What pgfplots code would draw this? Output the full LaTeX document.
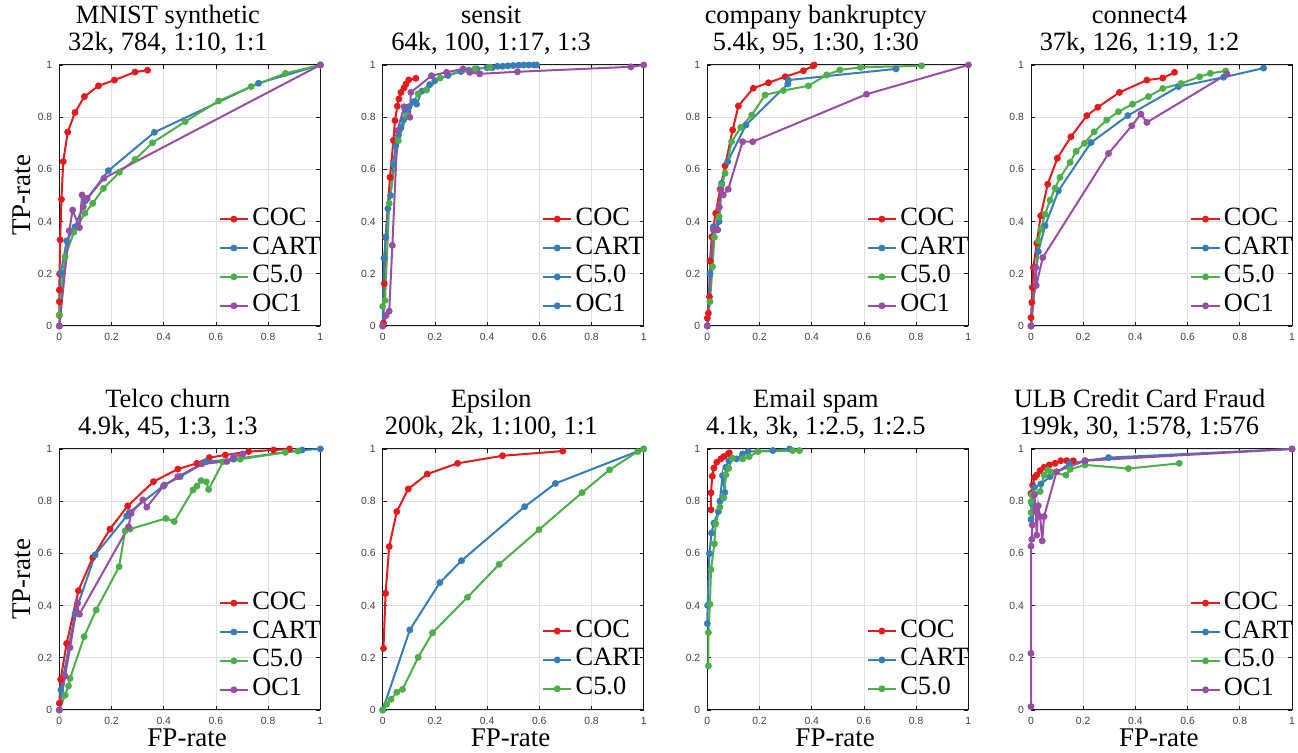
\documentclass[border=0pt]{standalone}
\usepackage{fontspec}
\setmainfont{Liberation Serif}
\newfontfamily\ticksfont{Liberation Sans}
\usepackage{pgfplots}
\pgfplotsset{compat=1.18}
\definecolor{cocred}{HTML}{E41A1C}
\definecolor{cartblue}{HTML}{377EB8}
\definecolor{cgreen}{HTML}{4DAF4A}
\definecolor{ocpurple}{HTML}{984EA3}
\pgfplotsset{
  cocst/.style={color=cocred, line width=1pt, mark=*, mark size=1.2pt, mark options={solid}},
  cartst/.style={color=cartblue, line width=1pt, mark=*, mark size=1.2pt, mark options={solid}},
  c5st/.style={color=cgreen, line width=1pt, mark=*, mark size=1.2pt, mark options={solid}},
  ocst/.style={color=ocpurple, line width=1pt, mark=*, mark size=1.2pt, mark options={solid}},
  rocax/.style={
    width=130.5pt, height=130.5pt, scale only axis, anchor=south west,
    xmin=0, xmax=1, ymin=0, ymax=1, clip=false,
    xtick={0,0.2,0.4,0.6,0.8,1}, ytick={0,0.2,0.4,0.6,0.8,1},
    xticklabels={0,0.2,0.4,0.6,0.8,1}, yticklabels={0,0.2,0.4,0.6,0.8,1},
    tick align=inside, xtick pos=both, ytick pos=both,
    major tick length=2pt,
    grid=major, major grid style={black!12, line width=0.4pt},
    axis line style={line width=0.5pt, black!90},
    tick style={black!90, line width=0.4pt},
    ticklabel style={font=\ticksfont\fontsize{5.2}{6}\selectfont, text=black!75},
    /pgf/number format/assume math mode=true,
    title style={font=\fontsize{13.2}{13.4}\selectfont, align=center, at={(axis description cs:0.5,1)}, anchor=south, inner sep=0pt, yshift=-0.8pt, xshift=-11pt},
    ylabel style={font=\fontsize{13.5}{14}\selectfont, at={(axis description cs:-0.1065,0.5)}, anchor=south, inner sep=0pt},
    xlabel style={font=\fontsize{13.5}{14}\selectfont, at={(axis description cs:0.49,-0.069)}, anchor=north, inner sep=0pt},
    legend image code/.code={\draw[mark repeat=2,mark phase=2,##1] plot coordinates {(0pt,0pt) (7.1pt,0pt) (14.2pt,0pt)};},
    legend cell align=left,
    legend style={draw=none, fill=none, inner sep=0pt, anchor=north west, at={(axis description cs:0.609,0.457)},
      font=\fontsize{13.2}{13.2}\selectfont, row sep=2.45pt,
      nodes={inner sep=0pt, text height=9pt, text depth=3pt},
      /tikz/every odd column/.append style={column sep=1.6pt}},
  },
  leg3/.style={legend style={at={(axis description cs:0.609,0.350)}}},
}
\begin{document}
\begin{tikzpicture}
\useasboundingbox (0,0) rectangle (649pt,376.5pt);
% ---------- MNIST synthetic
\begin{axis}[rocax, at={(29.67pt,213.5pt)}, title={MNIST synthetic\\32k, 784, 1:10, 1:1}, ylabel={TP-rate}]
\addplot[cocst, forget plot] coordinates {(0,0.04) (0,0.093) (0,0.138) (0.001,0.2) (0.003,0.33) (0.008,0.485) (0.015,0.63) (0.032,0.743) (0.06,0.818) (0.096,0.879) (0.15,0.92) (0.211,0.942) (0.29,0.973) (0.338,0.98)};
\addplot[cartst, forget plot] coordinates {(0,0) (0.006,0.204) (0.028,0.326) (0.06,0.38) (0.1,0.48) (0.188,0.595) (0.364,0.742) (0.763,0.93) (1,1)};
\addplot[c5st, forget plot] coordinates {(0,0.042) (0.022,0.265) (0.056,0.36) (0.098,0.432) (0.128,0.47) (0.169,0.527) (0.23,0.589) (0.29,0.638) (0.357,0.702) (0.482,0.783) (0.61,0.862) (0.735,0.917) (0.866,0.968) (1,1)};
\addplot[ocst, forget plot] coordinates {(0,0) (0.038,0.365) (0.051,0.444) (0.077,0.377) (0.087,0.502) (0.092,0.457) (0.107,0.489) (0.171,0.566) (1,1)};
\addlegendimage{cocst}\addlegendentry{COC}
\addlegendimage{cartst}\addlegendentry{CART}
\addlegendimage{c5st}\addlegendentry{C5.0}
\addlegendimage{ocst}\addlegendentry{OC1}
\end{axis}
% ---------- sensit
\begin{axis}[rocax, at={(191.35pt,213.5pt)}, title={sensit\\64k, 100, 1:17, 1:3}]
\addplot[cocst, forget plot] coordinates {(0.003,0.011) (0.006,0.162) (0.011,0.34) (0.028,0.57) (0.041,0.711) (0.047,0.787) (0.056,0.842) (0.062,0.87) (0.07,0.895) (0.082,0.912) (0.089,0.927) (0.1,0.943) (0.127,0.949)};
\addplot[cartst, forget plot] coordinates {(0,0) (0.005,0.26) (0.012,0.34) (0.02,0.45) (0.03,0.5) (0.04,0.62) (0.05,0.69) (0.06,0.73) (0.07,0.76) (0.08,0.79) (0.09,0.82) (0.1,0.84) (0.12,0.86) (0.13,0.85) (0.15,0.9) (0.18,0.925) (0.2,0.94) (0.25,0.96) (0.3,0.975) (0.33,0.98) (0.36,0.985) (0.4,0.99) (0.42,0.99) (0.44,0.995) (0.46,0.995) (0.48,0.997) (0.5,0.998) (0.52,0.999) (0.54,1) (0.56,1) (0.58,1) (0.59,1)};
\addplot[c5st, forget plot] coordinates {(0,0.075) (0.009,0.098) (0.025,0.47) (0.06,0.71) (0.092,0.806) (0.136,0.89) (0.168,0.904) (0.22,0.95) (0.31,0.982) (0.353,0.985) (0.41,0.991)};
\addplot[ocst, forget plot] coordinates {(0,0) (0.013,0.04) (0.025,0.057) (0.037,0.309) (0.057,0.749) (0.082,0.84) (0.104,0.8) (0.108,0.895) (0.187,0.959) (0.245,0.972) (0.308,0.985) (0.334,0.972) (0.372,0.966) (0.516,0.974) (0.951,0.993) (1,1)};
\addlegendimage{cocst}\addlegendentry{COC}
\addlegendimage{cartst}\addlegendentry{CART}
\addlegendimage{cartst}\addlegendentry{C5.0}
\addlegendimage{cartst}\addlegendentry{OC1}
\end{axis}
% ---------- company bankruptcy
\begin{axis}[rocax, at={(353.67pt,213.5pt)}, title={company bankruptcy\\5.4k, 95, 1:30, 1:30}]
\addplot[cocst, forget plot] coordinates {(0,0.03) (0.004,0.049) (0.008,0.112) (0.01,0.249) (0.017,0.342) (0.032,0.432) (0.049,0.524) (0.068,0.614) (0.097,0.751) (0.119,0.843) (0.176,0.911) (0.234,0.932) (0.298,0.955) (0.368,0.978) (0.406,0.997) (0.409,1)};
\addplot[cartst, forget plot] coordinates {(0,0) (0.01,0.2) (0.023,0.38) (0.045,0.4) (0.055,0.547) (0.078,0.63) (0.148,0.77) (0.308,0.927) (0.31,0.942) (0.723,0.985)};
\addplot[c5st, forget plot] coordinates {(0,0) (0.01,0.093) (0.02,0.227) (0.027,0.34) (0.045,0.419) (0.055,0.54) (0.068,0.585) (0.093,0.706) (0.128,0.761) (0.17,0.808) (0.221,0.885) (0.291,0.902) (0.387,0.92) (0.457,0.962) (0.508,0.981) (0.587,0.991) (0.821,0.997)};
\addplot[ocst, forget plot] coordinates {(0,0) (0.023,0.368) (0.04,0.368) (0.046,0.455) (0.052,0.521) (0.061,0.502) (0.08,0.524) (0.135,0.706) (0.174,0.706) (0.61,0.888) (1,1)};
\addlegendimage{cocst}\addlegendentry{COC}
\addlegendimage{cartst}\addlegendentry{CART}
\addlegendimage{c5st}\addlegendentry{C5.0}
\addlegendimage{ocst}\addlegendentry{OC1}
\end{axis}
% ---------- connect4
\begin{axis}[rocax, at={(515.5pt,213.5pt)}, title={connect4\\37k, 126, 1:19, 1:2}]
\addplot[cocst, forget plot] coordinates {(0,0.032) (0.003,0.09) (0.005,0.147) (0.009,0.224) (0.022,0.317) (0.037,0.422) (0.064,0.543) (0.101,0.643) (0.153,0.725) (0.214,0.806) (0.256,0.838) (0.339,0.895) (0.444,0.942) (0.505,0.95) (0.55,0.972)};
\addplot[cartst, forget plot] coordinates {(0,0) (0.028,0.285) (0.054,0.384) (0.105,0.518) (0.23,0.703) (0.371,0.806) (0.565,0.917) (0.738,0.953) (0.891,0.988)};
\addplot[c5st, forget plot] coordinates {(0,0) (0.028,0.326) (0.038,0.371) (0.054,0.428) (0.073,0.482) (0.092,0.528) (0.111,0.569) (0.15,0.627) (0.173,0.669) (0.205,0.7) (0.242,0.744) (0.29,0.789) (0.335,0.821) (0.389,0.85) (0.45,0.879) (0.505,0.91) (0.575,0.929) (0.646,0.955) (0.687,0.968) (0.746,0.977)};
\addplot[ocst, forget plot] coordinates {(0,0) (0.018,0.224) (0.02,0.155) (0.045,0.262) (0.297,0.661) (0.386,0.767) (0.421,0.812) (0.444,0.78) (0.751,0.965)};
\addlegendimage{cocst}\addlegendentry{COC}
\addlegendimage{cartst}\addlegendentry{CART}
\addlegendimage{c5st}\addlegendentry{C5.0}
\addlegendimage{ocst}\addlegendentry{OC1}
\end{axis}
% ---------- Telco churn
\begin{axis}[rocax, at={(29.67pt,21.5pt)}, title={Telco churn\\4.9k, 45, 1:3, 1:3}, ylabel={TP-rate}, xlabel={FP-rate}]
\addplot[cocst, forget plot] coordinates {(0,0.026) (0.005,0.117) (0.028,0.255) (0.073,0.457) (0.128,0.584) (0.194,0.693) (0.262,0.782) (0.361,0.875) (0.454,0.923) (0.527,0.945) (0.575,0.967) (0.636,0.977) (0.725,0.99) (0.821,0.996) (0.882,1)};
\addplot[cartst, forget plot] coordinates {(0,0) (0.006,0.077) (0.06,0.37) (0.137,0.594) (0.258,0.743) (0.268,0.757) (0.403,0.862) (0.463,0.894) (0.563,0.951) (0.668,0.961) (0.93,0.996) (1,1)};
\addplot[c5st, forget plot] coordinates {(0,0) (0.022,0.057) (0.035,0.092) (0.041,0.121) (0.095,0.281) (0.141,0.383) (0.229,0.549) (0.252,0.686) (0.271,0.693) (0.408,0.734) (0.44,0.722) (0.512,0.843) (0.527,0.858) (0.543,0.879) (0.563,0.874) (0.572,0.845) (0.627,0.951) (0.693,0.961) (0.866,0.987) (0.914,0.992)};
\addplot[ocst, forget plot] coordinates {(0,0) (0.022,0.13) (0.041,0.239) (0.07,0.409) (0.073,0.37) (0.077,0.367) (0.265,0.702) (0.275,0.753) (0.32,0.805) (0.335,0.777) (0.399,0.858) (0.454,0.894) (0.546,0.943) (0.642,0.952) (0.668,0.971) (0.703,0.981)};
\addlegendimage{cocst}\addlegendentry{COC}
\addlegendimage{cartst}\addlegendentry{CART}
\addlegendimage{c5st}\addlegendentry{C5.0}
\addlegendimage{ocst}\addlegendentry{OC1}
\end{axis}
% ---------- Epsilon
\begin{axis}[rocax, leg3, at={(191.35pt,21.5pt)}, title={Epsilon\\200k, 2k, 1:100, 1:1}, xlabel={FP-rate}]
\addplot[cocst, forget plot] coordinates {(0.003,0.236) (0.011,0.447) (0.025,0.626) (0.054,0.76) (0.098,0.847) (0.171,0.904) (0.287,0.945) (0.459,0.974) (0.69,0.992)};
\addplot[cartst, forget plot] coordinates {(0,0) (0.104,0.307) (0.219,0.488) (0.302,0.572) (0.544,0.779) (0.662,0.868) (1,1)};
\addplot[c5st, forget plot] coordinates {(0,0) (0.015,0.022) (0.032,0.041) (0.054,0.068) (0.076,0.079) (0.136,0.202) (0.191,0.296) (0.325,0.432) (0.446,0.558) (0.599,0.691) (0.764,0.833) (0.869,0.92) (0.977,0.99) (1,1)};
\addlegendimage{cocst}\addlegendentry{COC}
\addlegendimage{cartst}\addlegendentry{CART}
\addlegendimage{c5st}\addlegendentry{C5.0}
\end{axis}
% ---------- Email spam
\begin{axis}[rocax, leg3, at={(353.67pt,21.5pt)}, title={Email spam\\4.1k, 3k, 1:2.5, 1:2.5}, xlabel={FP-rate}]
\addplot[cocst, forget plot] coordinates {(0.014,0.767) (0.014,0.832) (0.019,0.896) (0.025,0.927) (0.036,0.949) (0.052,0.962) (0.063,0.971) (0.08,0.981) (0.084,0.985)};
\addplot[cartst, forget plot] coordinates {(0,0.331) (0.001,0.401) (0.008,0.599) (0.016,0.678) (0.025,0.716) (0.042,0.76) (0.048,0.8) (0.058,0.898) (0.067,0.834) (0.071,0.93) (0.082,0.955) (0.112,0.962) (0.135,0.981) (0.156,0.99) (0.251,0.994) (0.315,1)};
\addplot[c5st, forget plot] coordinates {(0.004,0.169) (0.004,0.297) (0.01,0.405) (0.014,0.538) (0.027,0.637) (0.032,0.713) (0.048,0.777) (0.063,0.813) (0.071,0.901) (0.082,0.926) (0.096,0.965) (0.135,0.962) (0.16,0.971) (0.194,0.99) (0.327,0.994) (0.353,0.994)};
\addlegendimage{cocst}\addlegendentry{COC}
\addlegendimage{cartst}\addlegendentry{CART}
\addlegendimage{c5st}\addlegendentry{C5.0}
\end{axis}
% ---------- ULB
\begin{axis}[rocax, at={(515.5pt,21.5pt)}, title={ULB Credit Card Fraud\\199k, 30, 1:578, 1:576}, xlabel={FP-rate}]
\addplot[cocst, forget plot] coordinates {(0,0.83) (0.006,0.862) (0.013,0.891) (0.022,0.9) (0.035,0.917) (0.05,0.93) (0.07,0.939) (0.092,0.945) (0.114,0.955) (0.137,0.955) (0.162,0.955)};
\addplot[cartst, forget plot] coordinates {(0,0.73) (0.003,0.792) (0.013,0.853) (0.038,0.866) (0.073,0.894) (0.147,0.943) (0.207,0.955) (0.297,0.967) (1,1)};
\addplot[c5st, forget plot] coordinates {(0,0.756) (0,0.798) (0.003,0.824) (0.013,0.828) (0.035,0.837) (0.05,0.9) (0.064,0.92) (0.077,0.911) (0.134,0.9) (0.15,0.922) (0.207,0.939) (0.373,0.925) (0.568,0.945)};
\addplot[ocst, forget plot] coordinates {(0,0.013) (0,0.217) (0,0.628) (0.003,0.654) (0.005,0.709) (0.013,0.824) (0.018,0.76) (0.022,0.67) (0.028,0.782) (0.035,0.741) (0.043,0.648) (0.05,0.741) (0.098,0.913) (0.207,0.955) (1,1)};
\addlegendimage{cocst}\addlegendentry{COC}
\addlegendimage{cartst}\addlegendentry{CART}
\addlegendimage{c5st}\addlegendentry{C5.0}
\addlegendimage{ocst}\addlegendentry{OC1}
\end{axis}
\end{tikzpicture}
\end{document}
